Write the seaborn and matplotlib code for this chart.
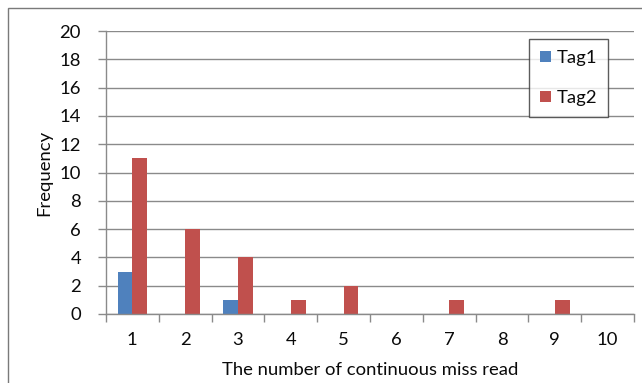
import matplotlib
matplotlib.use("Agg")
import matplotlib.pyplot as plt
from matplotlib.patches import Rectangle
from matplotlib.ticker import FixedLocator, MultipleLocator
import pandas as pd
import seaborn as sns

# Frequency of each run length of consecutive missed reads, per tag
run_lengths = ["1", "2", "3", "4", "5", "6", "7", "8", "9", "10"]
tag1_counts = [3, 0, 1, 0, 0, 0, 0, 0, 0, 0]
tag2_counts = [11, 6, 4, 1, 2, 0, 1, 0, 1, 0]
series_names = ["Tag1", "Tag2"]
series_colors = ["#4F81BD", "#C0504D"]

df = pd.DataFrame({
    "run": run_lengths * 2,
    "count": tag1_counts + tag2_counts,
    "tag": [series_names[0]] * len(run_lengths) + [series_names[1]] * len(run_lengths),
})

sns.set_theme(style="white")
plt.rcParams["font.family"] = ["Lato", "DejaVu Sans"]

W, H = 642, 383
FS = 13.3
fig = plt.figure(figsize=(W / 100, H / 100), dpi=100)
ax = fig.add_axes([106 / W, 1 - 314 / H, (634 - 106) / W, (314 - 31) / H])

sns.barplot(data=df, x="run", y="count", hue="tag", order=run_lengths,
            hue_order=series_names, palette=series_colors, width=0.56,
            gap=0, linewidth=0, saturation=1, ax=ax)

grid_col = "#8a8a8a"
ax.set_ylim(0, 20)
ax.yaxis.set_major_locator(MultipleLocator(2))
ax.grid(axis="y", color=grid_col, linewidth=1.0)
ax.set_axisbelow(True)
ax.set_xlim(-0.5, 9.5)

for side in ("top", "right"):
    ax.spines[side].set_visible(False)
for side in ("left", "bottom"):
    ax.spines[side].set_color(grid_col)
    ax.spines[side].set_linewidth(1.0)

# category separators below the axis, labels centred without marks
ax.xaxis.set_minor_locator(FixedLocator([i - 0.5 for i in range(len(run_lengths) + 1)]))
ax.tick_params(axis="x", which="minor", length=6, width=1, color=grid_col, bottom=True)
ax.tick_params(axis="x", which="major", length=0, pad=13, labelsize=FS, labelcolor="#0a0a0a")
ax.tick_params(axis="y", which="major", length=6, width=1, color=grid_col, left=True,
               pad=12, labelsize=FS, labelcolor="#0a0a0a")

ax.set_xlabel("The number of continuous miss read", fontsize=FS, color="#0a0a0a", labelpad=10)
ax.set_ylabel("Frequency", fontsize=FS, color="#0a0a0a", labelpad=5)

leg = ax.legend(loc="upper right", bbox_to_anchor=(608 / W, 1 - 39 / H),
                bbox_transform=fig.transFigure, frameon=True, fancybox=False,
                borderaxespad=0, fontsize=FS, handlelength=0.6, handleheight=0.6,
                handletextpad=0.3, labelspacing=1.3, borderpad=0.6)
leg.get_frame().set_edgecolor("#333333")
leg.get_frame().set_linewidth(1.0)
for t in leg.get_texts():
    t.set_color("#0a0a0a")

# outer chart frame
fig.patches.append(Rectangle((8 / W, -0.2), 1.2, 1.2 - 8 / H,
                             transform=fig.transFigure, fill=False,
                             edgecolor="#7a7a7a", linewidth=1.0))

fig.savefig("out.png", dpi=100)
